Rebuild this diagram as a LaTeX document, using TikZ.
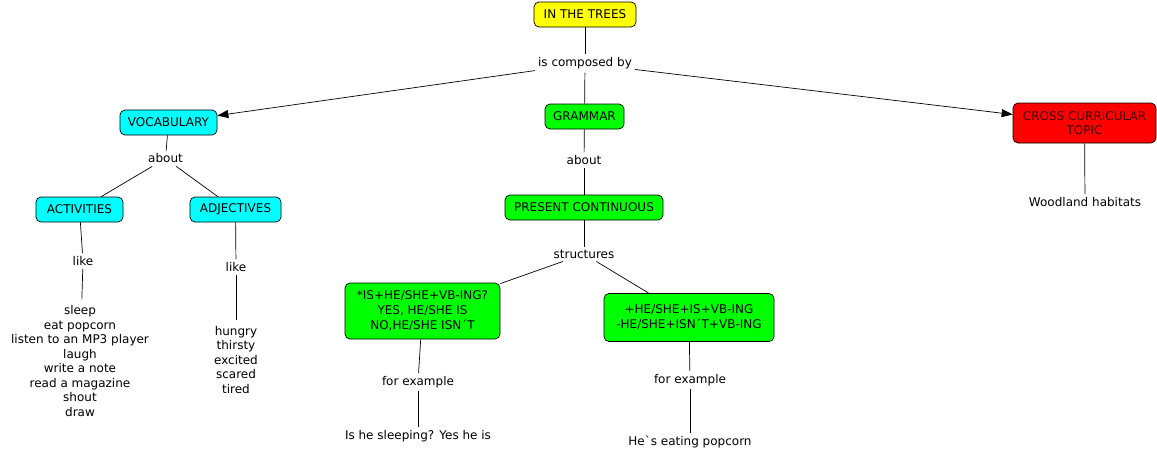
\documentclass[tikz,border=0pt]{standalone}
\usepackage{fontspec}
\setmainfont{DejaVu Sans}
\usepackage{xcolor}
\usetikzlibrary{arrows.meta, positioning}
\definecolor{mainfill}{RGB}{255,255,0}
\definecolor{vocabfill}{RGB}{0,255,255}
\definecolor{grammarfill}{RGB}{0,255,0}
\definecolor{topicfill}{RGB}{255,0,0}
\definecolor{topictext}{RGB}{60,0,0}

\begin{document}
\begin{tikzpicture}[
    x=1pt, y=-1pt,
    font=\fontsize{12}{14.5}\selectfont,
    concept/.style={
        draw=black,
        rounded corners=5pt,
        line width=0.7pt,
        inner sep=0pt,
        align=center
    },
    mainbox/.style={concept, fill=mainfill},
    vocabbox/.style={concept, fill=vocabfill},
    grammarbox/.style={concept, fill=grammarfill},
    topicbox/.style={concept, fill=topicfill, text=topictext},
    phrase/.style={inner sep=3pt, align=center},
    wordlist/.style={inner sep=6pt, align=center},
    link/.style={draw=black, line width=0.7pt},
    linkarrow/.style={link, -{Triangle[length=11pt, width=8pt]}}
]

\useasboundingbox (0,0) rectangle (1157,459);

% ------------------------------------------------------------
% Top: main concept
% ------------------------------------------------------------
\node[mainbox, minimum width=102pt, minimum height=25pt] (trees) at (585,14.5) {IN THE TREES};
\node[phrase] (composed) at (585,63.5) {is composed by};

\node[vocabbox, minimum width=97pt, minimum height=25pt] (vocab) at (168.5,122.5) {VOCABULARY};
\node[grammarbox, minimum width=79pt, minimum height=25pt] (grammar) at (584.5,116.5) {GRAMMAR};
\node[topicbox, minimum width=143pt, minimum height=40pt, font=\fontsize{12}{14.7}\selectfont] (cross) at (1084.5,123) {CROSS CURRICULAR\\TOPIC};

\draw[link] (trees) -- (composed);
\draw[linkarrow] (composed) -- (vocab);
\draw[link] (composed) -- (grammar);
\draw[linkarrow] (composed) -- (cross);

% ------------------------------------------------------------
% Left: vocabulary
% ------------------------------------------------------------
\node[phrase] (about1) at (165.5,158.5) {about};
\node[vocabbox, minimum width=87pt, minimum height=25pt] (activ) at (79.5,209.5) {ACTIVITIES};
\node[vocabbox, minimum width=91pt, minimum height=25pt] (adject) at (235.5,209.5) {ADJECTIVES};

\draw[link] (vocab) -- (about1);
\draw[link] (about1) -- (activ);
\draw[link] (about1) -- (adject);

% activities: like + list
\node[phrase] (like1) at (83,261) {like};
\node[wordlist] (verbs) at (80,361) {sleep\\eat popcorn\\listen to an MP3 player\\laugh\\write a note\\read a magazine\\shout\\draw};
\draw[link] (activ) -- (like1);
\draw[link] (like1) -- (verbs);

% adjectives: like + list
\node[phrase] (like2) at (236,267) {like};
\node[wordlist] (feelings) at (236,360) {hungry\\thirsty\\excited\\scared\\tired};
\draw[link] (adject) -- (like2);
\draw[link] (like2) -- (feelings);

% ------------------------------------------------------------
% Middle: grammar
% ------------------------------------------------------------
\node[phrase] (about2) at (584,160) {about};
\node[grammarbox, minimum width=158pt, minimum height=25pt] (present) at (584,207.5) {PRESENT CONTINUOUS};
\node[phrase] (structures) at (584,254) {structures};

\draw[link] (grammar) -- (about2);
\draw[link] (about2) -- (present);
\draw[link] (present) -- (structures);

% questions: 3 lines
\node[grammarbox, minimum width=155pt, minimum height=56pt, font=\fontsize{12}{15}\selectfont] (question) at (422.5,311) {*IS+HE/SHE+VB-ING?\\YES, HE/SHE IS\\NO,HE/SHE ISN´T};
% statements: 2 lines
\node[grammarbox, minimum width=170pt, minimum height=48pt, font=\fontsize{12}{15}\selectfont] (statement) at (689,317.5) {+HE/SHE+IS+VB-ING\\-HE/SHE+ISN´T+VB-ING};

\draw[link] (structures) -- (question);
\draw[link] (structures) -- (statement);

\node[phrase] (forex1) at (418,382) {for example};
\node[phrase] (example1) at (418,436) {Is he sleeping? Yes he is};
\draw[link] (question) -- (forex1);
\draw[link] (forex1) -- (example1);

\node[phrase] (forex2) at (690,380) {for example};
\node[phrase] (example2) at (690,442) {He\textasciigrave s eating popcorn};
\draw[link] (statement) -- (forex2);
\draw[link] (forex2) -- (example2);

% ------------------------------------------------------------
% Right: topic
% ------------------------------------------------------------
\node[phrase] (woodland) at (1085,202) {Woodland habitats};
\draw[link] (cross) -- (woodland);

\end{tikzpicture}
\end{document}
